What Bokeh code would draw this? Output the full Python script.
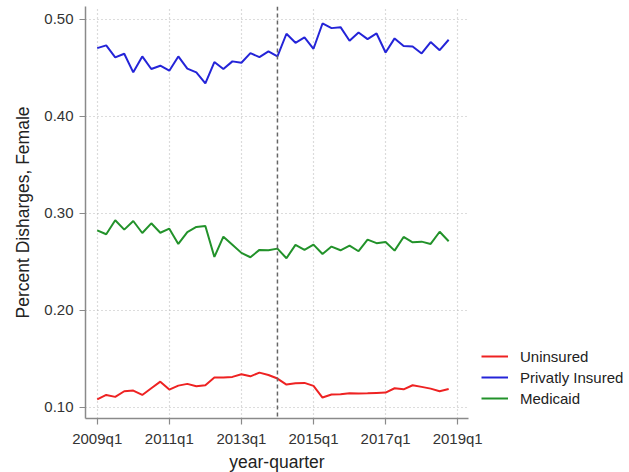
from bokeh.plotting import figure
from bokeh.models import FixedTicker, Span, Legend, LegendItem, Range1d
from bokeh.embed import file_html
from bokeh.resources import INLINE

quarters = list(range(40))  # 0 = 2009q1 ... 39 = 2018q4
tick_pos = [0, 8, 16, 24, 32, 40]
tick_labels = ["2009q1", "2011q1", "2013q1", "2015q1", "2017q1", "2019q1"]
y_ticks = [0.10, 0.20, 0.30, 0.40, 0.50]
policy_quarter = 20  # 2014q1

uninsured = [0.1083, 0.1128, 0.1108, 0.1166, 0.1173, 0.1128, 0.1197, 0.1265, 0.1183, 0.1224,
             0.1242, 0.1217, 0.1228, 0.1307, 0.1307, 0.1314, 0.1341, 0.1320, 0.1358, 0.1334,
             0.1297, 0.1235, 0.1248, 0.1252, 0.1221, 0.1101, 0.1132, 0.1135, 0.1145, 0.1142,
             0.1145, 0.1149, 0.1152, 0.1197, 0.1186, 0.1228, 0.1211, 0.1193, 0.1166, 0.1190]
private = [0.4705, 0.4733, 0.4609, 0.4647, 0.4455, 0.4619, 0.4489, 0.4523, 0.4472, 0.4619,
           0.4493, 0.4455, 0.4342, 0.4561, 0.4489, 0.4568, 0.4554, 0.4653, 0.4612, 0.4671,
           0.4619, 0.4853, 0.4760, 0.4815, 0.4698, 0.4959, 0.4911, 0.4921, 0.4781, 0.4866,
           0.4798, 0.4856, 0.4660, 0.4805, 0.4726, 0.4722, 0.4650, 0.4767, 0.4684, 0.4791]
medicaid = [0.2826, 0.2785, 0.2929, 0.2833, 0.2922, 0.2798, 0.2898, 0.2801, 0.2843, 0.2685,
            0.2808, 0.2860, 0.2870, 0.2551, 0.2760, 0.2678, 0.2593, 0.2548, 0.2624, 0.2620,
            0.2637, 0.2538, 0.2675, 0.2624, 0.2678, 0.2582, 0.2658, 0.2620, 0.2668, 0.2610,
            0.2730, 0.2693, 0.2706, 0.2616, 0.2757, 0.2702, 0.2709, 0.2685, 0.2811, 0.2713]

FONT = "Liberation Sans"

p = figure(frame_width=383, frame_height=412, output_backend="svg", toolbar_location=None,
           x_range=Range1d(-1.3, 41.2), y_range=Range1d(0.0885, 0.5134),
           min_border_left=85, min_border_right=10, min_border_top=6, min_border_bottom=54)
p.outline_line_color = None
p.background_fill_color = "white"
p.border_fill_color = "white"

r_u = p.line(quarters, uninsured, color="#ee2222", line_width=2)
r_p = p.line(quarters, private, color="#2424d8", line_width=2)
r_m = p.line(quarters, medicaid, color="#22922a", line_width=2)

p.add_layout(Span(location=policy_quarter, dimension="height", line_color="#666666",
                  line_dash="4 3", line_width=1.5))

p.xaxis.ticker = FixedTicker(ticks=tick_pos)
p.xaxis.major_label_overrides = {t: l for t, l in zip(tick_pos, tick_labels)}
p.yaxis.ticker = FixedTicker(ticks=y_ticks)
p.yaxis.major_label_overrides = {t: f"{t:.2f}" for t in y_ticks}

for ax in (p.xaxis[0], p.yaxis[0]):
    ax.axis_line_color = "#8a8a8a"
    ax.axis_line_width = 1.5
    ax.major_tick_line_color = "#8a8a8a"
    ax.major_tick_line_width = 1.2
    ax.major_tick_out = 6
    ax.major_tick_in = 0
    ax.minor_tick_line_color = None
    ax.major_label_text_font = FONT
    ax.major_label_text_font_size = "15px"
    ax.major_label_text_color = "#333333"
    ax.axis_label_text_font = FONT
    ax.axis_label_text_font_size = "17.5px"
    ax.axis_label_text_font_style = "normal"
    ax.axis_label_text_color = "#222222"

p.xaxis.axis_label = "year-quarter"
p.yaxis.axis_label = "Percent Disharges, Female"
p.xaxis.major_label_standoff = 5
p.xaxis.axis_label_standoff = 2
p.yaxis.major_label_standoff = 6
p.yaxis.axis_label_standoff = 8

p.xgrid.ticker = FixedTicker(ticks=tick_pos)
p.ygrid.ticker = FixedTicker(ticks=y_ticks)
for g in (p.xgrid[0], p.ygrid[0]):
    g.grid_line_color = "#b8b8b8"
    g.grid_line_dash = "1 3"
    g.grid_line_width = 1.2

legend = Legend(items=[LegendItem(label="Uninsured", renderers=[r_u]),
                       LegendItem(label="Privatly Insured", renderers=[r_p]),
                       LegendItem(label="Medicaid", renderers=[r_m])],
                location=(13, 11), orientation="vertical")
legend.background_fill_alpha = 0
legend.border_line_color = None
legend.margin = 0
legend.padding = 5
legend.label_text_font = FONT
legend.label_text_font_size = "15px"
legend.label_text_color = "#222222"
legend.glyph_width = 27
legend.label_standoff = 12
legend.spacing = 3
legend.label_height = 18
legend.glyph_height = 18
p.add_layout(legend, "right")

open("out.html", "w").write(file_html(p, INLINE))
